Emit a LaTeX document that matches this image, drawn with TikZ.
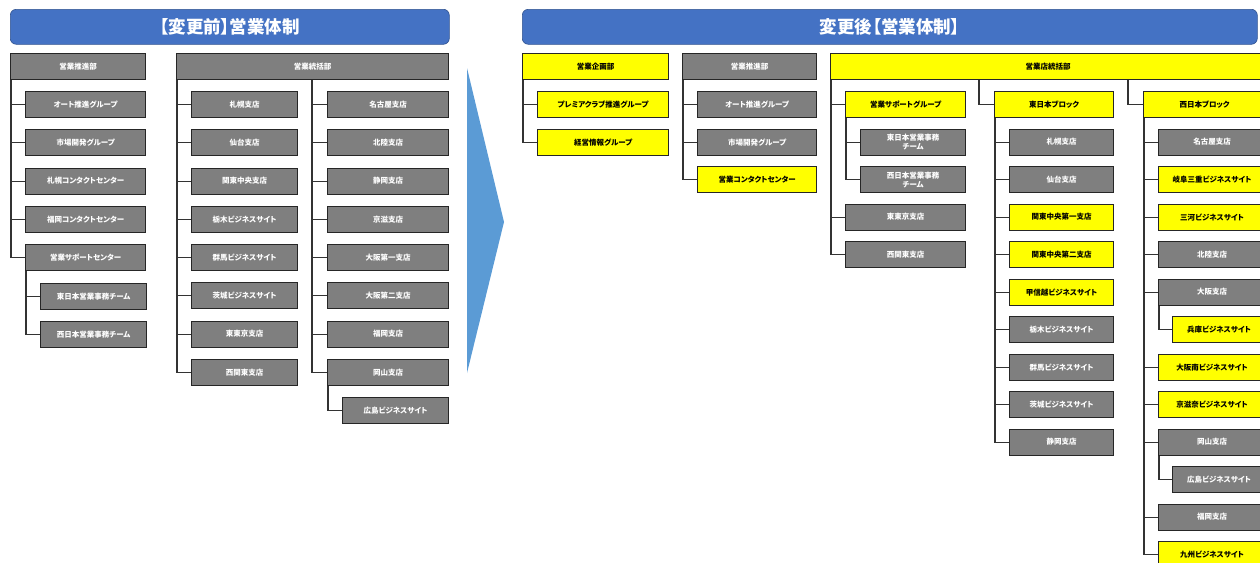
\documentclass[tikz,border=0pt]{standalone}
\usepackage{fontspec}
\setmainfont{Noto Sans CJK JP}[RawFeature=+palt]
\usetikzlibrary{positioning}
\definecolor{banner}{HTML}{4472C4}
\definecolor{bannerrim}{HTML}{2F528F}
\definecolor{unitgrey}{HTML}{7F7F7F}
\definecolor{unityel}{HTML}{FFFF00}
\definecolor{rim}{HTML}{262626}
\definecolor{wirecol}{HTML}{333333}
\definecolor{arrowfill}{HTML}{5B9BD5}
\tikzset{
  headbar/.style={draw=bannerrim, fill=banner, rounded corners=6pt, line width=0.6pt,
                  text=white, anchor=north west, minimum height=35pt, inner sep=0pt,
                  font=\fontsize{17.5}{20}\selectfont\bfseries},
  unit/.style={draw=rim, line width=1.2pt, anchor=north west, minimum height=26pt,
               inner sep=1pt, align=center, font=\fontsize{7.5}{9}\selectfont\bfseries},
  grayunit/.style={unit, fill=unitgrey, text=white},
  yelunit/.style={unit, fill=unityel, text=black},
  wire/.style={draw=wirecol, line width=1.2pt}
}
\begin{document}
\begin{tikzpicture}[x=1pt, y=-1pt]
  \useasboundingbox (0,0) rectangle (1260,562);
  \clip (0,0) rectangle (1260,562);

  % before
  \node[headbar, minimum width=439pt] (oldtitle) at (10,9) {【変更前】営業体制};
  \node[grayunit, minimum width=135pt] (oldpromo) at (10,53) {営業推進部};
  \foreach \t [count=\i] in {オート推進グループ, 市場開発グループ, 札幌コンタクトセンター,
                             福岡コンタクトセンター, 営業サポートセンター}
    \node[grayunit, minimum width=120pt] (oldpromo\i) at (25,{91+38.25*(\i-1)}) {\t};
  \node[grayunit, minimum width=106pt] (oldteam1) at (40,283) {東日本営業事務チーム};
  \node[grayunit, minimum width=106pt] (oldteam2) at (40,321) {西日本営業事務チーム};
  \foreach \i in {1,...,5}
    \draw[wire] ([xshift=1pt]oldpromo.south west) |- (oldpromo\i.west);
  \foreach \i in {1,2}
    \draw[wire] ([xshift=1pt]oldpromo5.south west) |- (oldteam\i.west);

  \node[grayunit, minimum width=272pt] (oldsales) at (176,53) {営業統括部};
  \foreach \t [count=\i] in {札幌支店, 仙台支店, 関東中央支店, 栃木ビジネスサイト,
                             群馬ビジネスサイト, 茨城ビジネスサイト, 東東京支店, 西関東支店}
  {
    \node[grayunit, minimum width=106pt] (oldbranchA\i) at (191,{91+38.25*(\i-1)}) {\t};
    \draw[wire] ([xshift=1pt]oldsales.south west) |- (oldbranchA\i.west);
  }
  \foreach \t [count=\i] in {名古屋支店, 北陸支店, 静岡支店, 京滋支店,
                             大阪第一支店, 大阪第二支店, 福岡支店, 岡山支店}
  {
    \node[grayunit, minimum width=121pt] (oldbranchB\i) at (327,{91+38.25*(\i-1)}) {\t};
    \draw[wire] ([xshift=136pt]oldsales.south west) |- (oldbranchB\i.west);
  }
  \node[grayunit, minimum width=106pt] (oldsite) at (342,397) {広島ビジネスサイト};
  \draw[wire] ([xshift=1pt]oldbranchB8.south west) |- (oldsite.west);

  % change arrow
  \fill[arrowfill] (467,68) -- (504,222) -- (467,373) -- cycle;

  % after
  \node[headbar, minimum width=735pt] (newtitle) at (522,9) {変更後【営業体制】};

  \node[yelunit, minimum width=146pt] (newplan) at (522,53) {営業企画部};
  \foreach \t [count=\i] in {プレミアクラブ推進グループ, 経営情報グループ}
  {
    \node[yelunit, minimum width=131pt] (newplan\i) at (537,{91+37.5*(\i-1)}) {\t};
    \draw[wire] ([xshift=1pt]newplan.south west) |- (newplan\i.west);
  }

  \node[grayunit, minimum width=134pt] (newpromo) at (682,53) {営業推進部};
  \foreach \t/\s [count=\i] in {オート推進グループ/grayunit, 市場開発グループ/grayunit,
                                営業コンタクトセンター/yelunit}
  {
    \node[\s, minimum width=119pt] (newpromo\i) at (697,{91+37.5*(\i-1)}) {\t};
    \draw[wire] ([xshift=1pt]newpromo.south west) |- (newpromo\i.west);
  }

  \node[yelunit, minimum width=435pt] (newsales) at (830,53) {営業店統括部};

  \node[yelunit, minimum width=120pt] (newsupport) at (845,91) {営業サポートグループ};
  \node[grayunit, minimum width=105pt] (newteam1) at (860,128.5) {東日本営業事務\\チーム};
  \node[grayunit, minimum width=105pt] (newteam2) at (860,166) {西日本営業事務\\チーム};
  \node[grayunit, minimum width=120pt] (newtokyo) at (845,203.5) {東東京支店};
  \node[grayunit, minimum width=120pt] (newkanto) at (845,241) {西関東支店};
  \foreach \n in {newsupport, newtokyo, newkanto}
    \draw[wire] ([xshift=1pt]newsales.south west) |- (\n.west);
  \foreach \i in {1,2}
    \draw[wire] ([xshift=1pt]newsupport.south west) |- (newteam\i.west);

  \node[yelunit, minimum width=119pt] (neweast) at (994,91) {東日本ブロック};
  \draw[wire] ([xshift=149pt]newsales.south west) |- (neweast.west);
  \foreach \t/\s [count=\i] in {札幌支店/grayunit, 仙台支店/grayunit,
        関東中央第一支店/yelunit, 関東中央第二支店/yelunit, 甲信越ビジネスサイト/yelunit,
        栃木ビジネスサイト/grayunit, 群馬ビジネスサイト/grayunit,
        茨城ビジネスサイト/grayunit, 静岡支店/grayunit}
  {
    \node[\s, minimum width=104pt] (neweast\i) at (1009,{128.5+37.5*(\i-1)}) {\t};
    \draw[wire] ([xshift=1pt]neweast.south west) |- (neweast\i.west);
  }

  \node[yelunit, minimum width=122pt] (newwest) at (1143,91) {西日本ブロック};
  \draw[wire] ([xshift=298pt]newsales.south west) |- (newwest.west);
  \foreach \t/\s/\r in {名古屋支店/grayunit/2, 岐阜三重ビジネスサイト/yelunit/3,
        三河ビジネスサイト/yelunit/4, 北陸支店/grayunit/5, 大阪支店/grayunit/6,
        大阪南ビジネスサイト/yelunit/8, 京滋奈ビジネスサイト/yelunit/9,
        岡山支店/grayunit/10, 福岡支店/grayunit/12, 九州ビジネスサイト/yelunit/13}
  {
    \node[\s, minimum width=107pt] (newwest\r) at (1158,{91+37.5*(\r-1)}) {\t};
    \draw[wire] ([xshift=1pt]newwest.south west) |- (newwest\r.west);
  }
  \node[yelunit, minimum width=93pt] (newwest7) at (1172,316) {兵庫ビジネスサイト};
  \node[grayunit, minimum width=93pt] (newwest11) at (1172,466) {広島ビジネスサイト};
  \draw[wire] ([xshift=1pt]newwest6.south west) |- (newwest7.west);
  \draw[wire] ([xshift=1pt]newwest10.south west) |- (newwest11.west);
\end{tikzpicture}
\end{document}
